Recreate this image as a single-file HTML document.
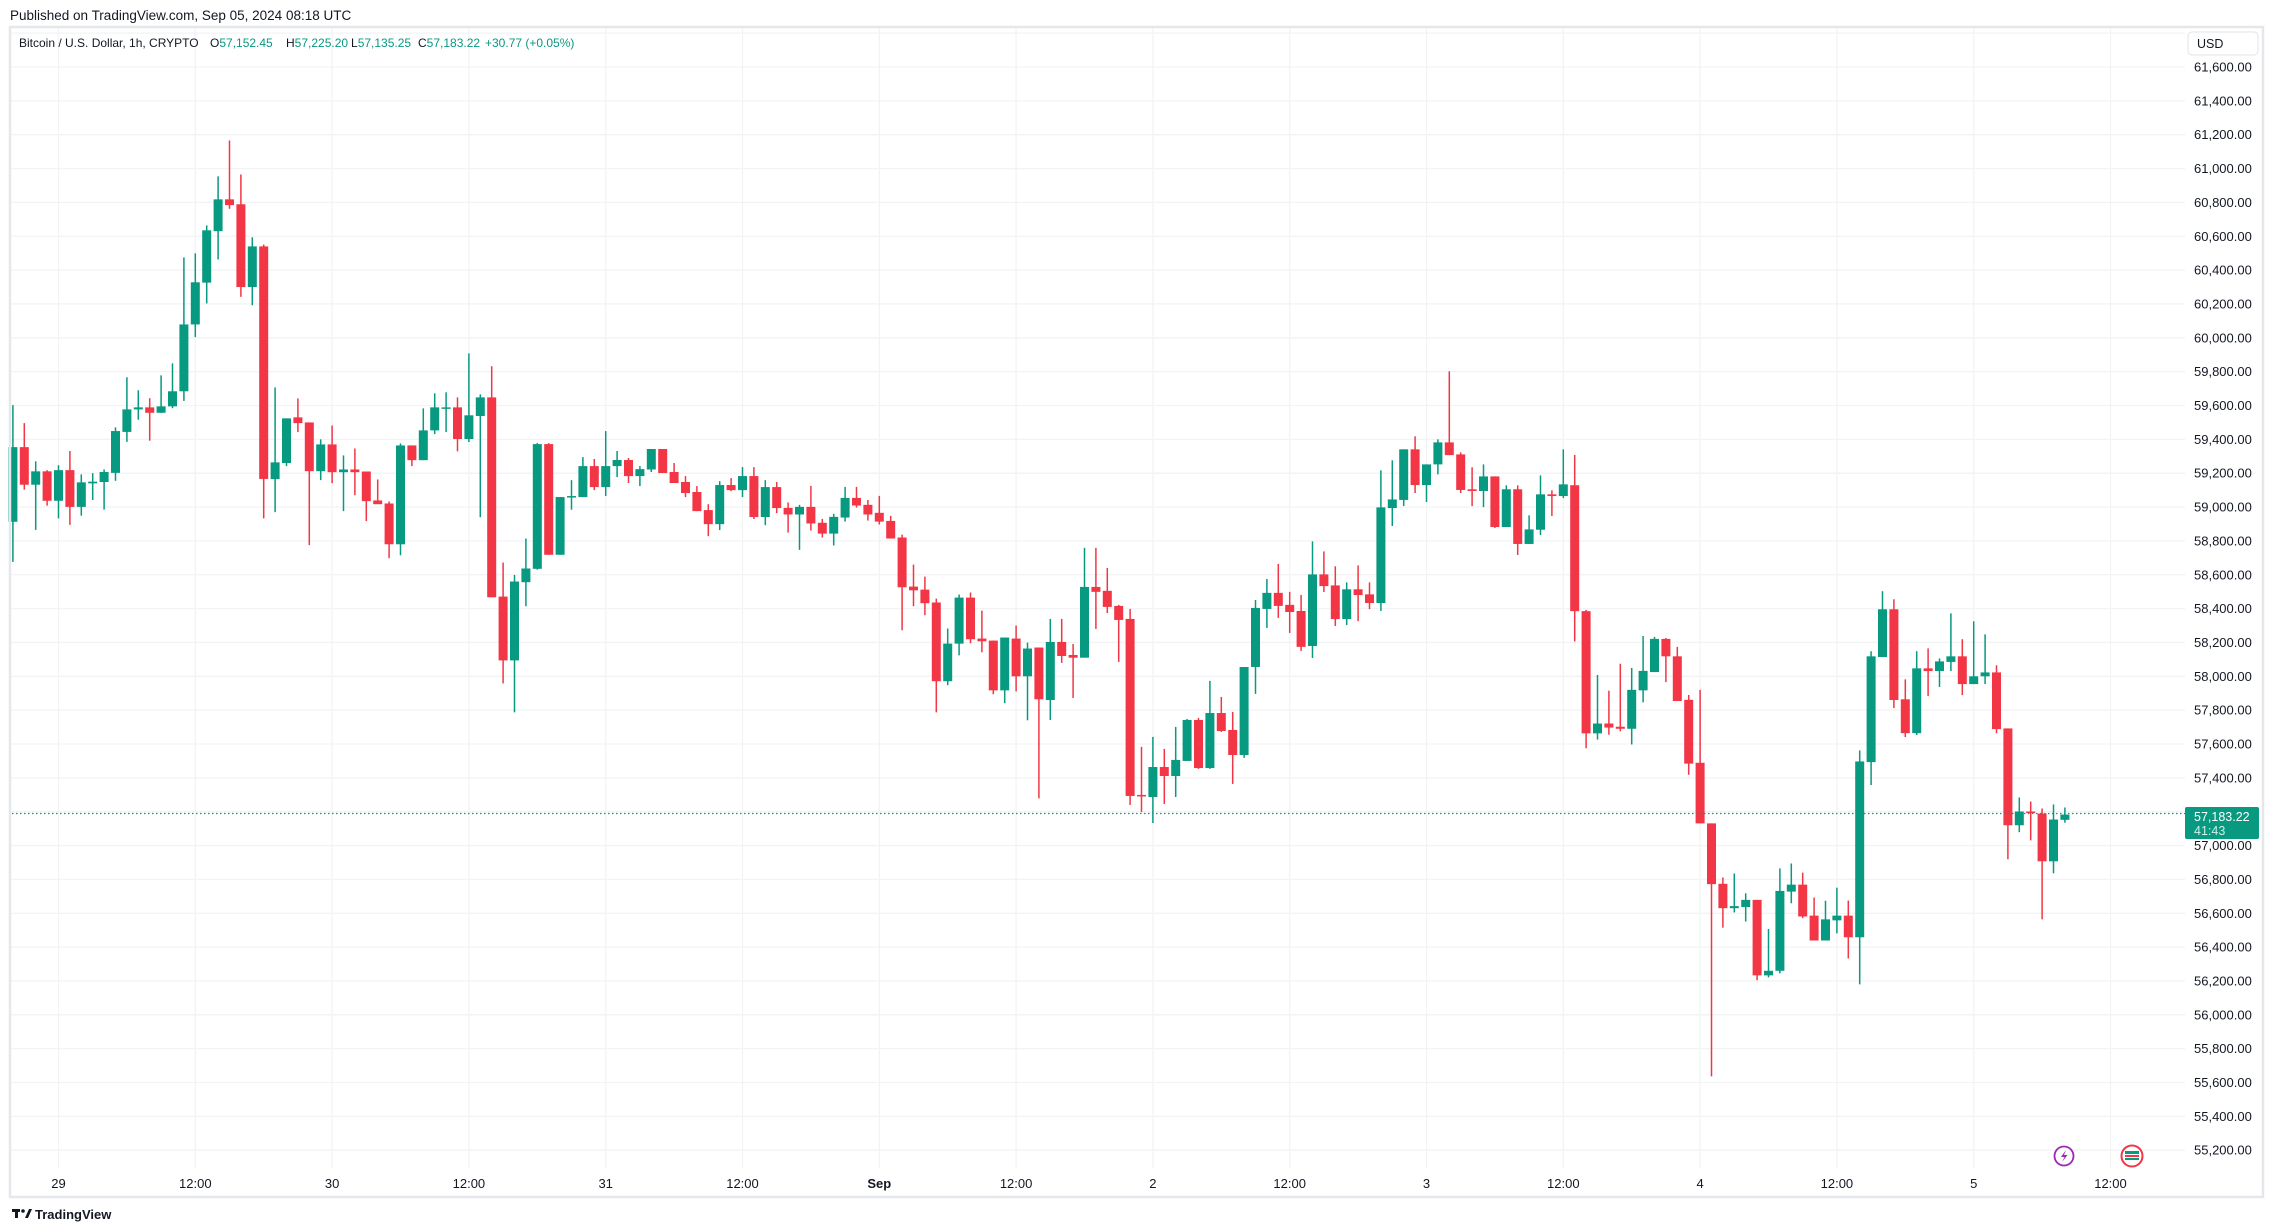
<!DOCTYPE html>
<html><head><meta charset="utf-8">
<style>
html,body{margin:0;padding:0;background:#fff;}
body{width:2274px;height:1232px;position:relative;overflow:hidden;font-family:"Liberation Sans",sans-serif;color:#131722;}
svg{position:absolute;left:0;top:0;}
</style></head>
<body>
<svg id="c" width="2274" height="1232" xmlns="http://www.w3.org/2000/svg" font-family="Liberation Sans, sans-serif">
<text x="10" y="20" font-size="13.5" fill="#131722">Published on TradingView.com, Sep 05, 2024 08:18 UTC</text>
<g id="grid"></g>
<g id="candles"></g>
<rect x="10" y="27" width="2253" height="1170" fill="none" stroke="#e6e7ea" stroke-width="2.5"/>
<g font-size="12" fill="#131722">
<text x="19" y="47">Bitcoin / U.S. Dollar, 1h, CRYPTO</text>
<text x="210" y="47">O<tspan fill="#089981">57,152.45</tspan></text>
<text x="286" y="47">H<tspan fill="#089981">57,225.20</tspan></text>
<text x="351" y="47">L<tspan fill="#089981">57,135.25</tspan></text>
<text x="418" y="47">C<tspan fill="#089981">57,183.22</tspan></text>
<text x="485" y="47" fill="#089981">+30.77 (+0.05%)</text>
</g>
<rect x="2188" y="32" width="70" height="23" rx="4" fill="#fff" stroke="#e0e3eb"/>
<text x="2197" y="48" font-size="12.5" fill="#131722">USD</text>
<g id="plabels" font-size="13" fill="#131722"></g>
<g id="tlabels" font-size="13" fill="#131722" text-anchor="middle"></g>
<line x1="12" x2="2185" y1="813.5" y2="813.5" stroke="#089981" stroke-width="1.2" stroke-dasharray="1.5 2.5"/>
<rect x="2185" y="807" width="74" height="32" rx="2" fill="#089981"/>
<text x="2194" y="821" font-size="12.5" fill="#fff">57,183.22</text>
<text x="2194" y="835" font-size="12.5" fill="#cdeee7">41:43</text>
<circle cx="2064" cy="1156" r="9.5" fill="#fff" stroke="#9c27b0" stroke-width="1.8"/>
<path d="M2066 1150 L2061 1157 L2064.5 1157 L2062 1162 L2067.5 1155 L2064 1155 Z" fill="#9c27b0"/>
<circle cx="2132" cy="1156" r="10.5" fill="#fff" stroke="#f23645" stroke-width="2"/>
<rect x="2125" y="1151" width="14" height="3" fill="#089981"/>
<rect x="2125" y="1155" width="14" height="2" fill="#f23645"/>
<rect x="2125" y="1158" width="14" height="2" fill="#089981"/>
<g transform="translate(12,1209)" fill="#131722">
<rect x="0" y="0" width="8" height="3"/>
<rect x="3" y="0" width="3" height="9"/>
<circle cx="11" cy="2" r="1.8"/>
<path d="M13 9 L17 0 L20 0 L16 9 Z"/>
</g>
<text x="35" y="1219" font-size="13" font-weight="bold" fill="#131722">TradingView</text>
</svg>
<script>
(function(){
var D=[[58913,59602,58676,59354],[59354,59496,59103,59132],[59132,59270,58865,59211],[59211,59218,59008,59037],[59037,59247,58933,59218],[59218,59331,58895,59001],[59001,59193,58949,59146],[59140,59200,59042,59150],[59148,59222,58985,59207],[59202,59471,59155,59449],[59444,59767,59385,59577],[59577,59690,59516,59589],[59589,59643,59392,59557],[59557,59778,59557,59595],[59595,59849,59584,59684],[59684,60475,59627,60079],[60079,60499,60004,60328],[60326,60664,60203,60635],[60630,60954,60463,60818],[60818,61166,60762,60784],[60789,60965,60242,60300],[60300,60594,60192,60540],[60540,60551,58933,59166],[59165,59707,58970,59264],[59260,59524,59242,59524],[59530,59642,59443,59496],[59500,59500,58775,59212],[59212,59400,59159,59370],[59370,59482,59141,59206],[59206,59305,58976,59222],[59222,59346,59070,59206],[59210,59210,58917,59035],[59039,59163,59017,59017],[59021,59033,58698,58780],[58780,59376,58715,59364],[59364,59364,59242,59277],[59277,59583,59277,59453],[59453,59672,59431,59589],[59585,59678,59443,59589],[59589,59648,59329,59402],[59402,59908,59384,59542],[59538,59666,58940,59648],[59648,59832,58467,58467],[58471,58672,57958,58094],[58094,58599,57787,58560],[58556,58814,58414,58637],[58635,59378,58630,59372],[59372,59378,58718,58718],[58718,59059,58718,59059],[59059,59159,58984,59065],[59059,59295,59059,59242],[59242,59284,59100,59118],[59118,59449,59065,59242],[59242,59331,59177,59278],[59278,59290,59142,59183],[59183,59242,59124,59224],[59222,59343,59207,59343],[59343,59343,59201,59201],[59207,59260,59142,59142],[59148,59183,59059,59083],[59089,59124,58976,58976],[58982,59017,58828,58899],[58899,59153,58864,59130],[59130,59171,59094,59100],[59100,59236,59059,59183],[59183,59236,58929,58941],[58941,59159,58893,59118],[59118,59148,58964,58994],[58995,59027,58849,58956],[58956,59013,58747,59001],[59001,59125,58861,58903],[58907,58930,58820,58843],[58843,58960,58773,58942],[58938,59119,58914,59054],[59054,59119,58997,59009],[59013,59042,58920,58956],[58966,59066,58897,58914],[58918,58948,58814,58814],[58820,58837,58272,58526],[58530,58660,58414,58508],[58512,58589,58361,58432],[58436,58459,57787,57971],[57971,58282,57947,58193],[58193,58483,58124,58465],[58465,58495,58195,58219],[58223,58388,58142,58207],[58211,58211,57894,57917],[57917,58229,57841,58229],[58223,58300,57911,58000],[58000,58199,57740,58164],[58170,58170,57279,57864],[57860,58339,57742,58203],[58203,58339,58079,58120],[58126,58191,57872,58110],[58110,58759,58110,58528],[58528,58759,58280,58499],[58505,58640,58374,58410],[58416,58422,58085,58333],[58339,58398,57240,57293],[57299,57583,57198,57293],[57287,57642,57133,57464],[57464,57571,57246,57411],[57411,57701,57287,57506],[57500,57748,57500,57742],[57742,57754,57453,57458],[57458,57973,57453,57783],[57783,57878,57671,57677],[57683,57789,57364,57535],[57535,58055,57518,58055],[58055,58451,57896,58404],[58398,58575,58286,58493],[58493,58664,58345,58416],[58422,58499,58256,58380],[58386,58481,58150,58174],[58179,58797,58108,58602],[58602,58738,58498,58533],[58537,58650,58297,58338],[58338,58555,58303,58514],[58514,58655,58326,58480],[58484,58555,58397,58433],[58433,59217,58386,58998],[58994,59276,58888,59045],[59042,59341,59006,59341],[59341,59418,59083,59130],[59130,59252,59030,59252],[59252,59400,59193,59382],[59382,59802,59307,59307],[59311,59323,59083,59101],[59105,59235,59006,59095],[59095,59252,59000,59181],[59181,59181,58876,58882],[58882,59128,58882,59105],[59105,59128,58717,58782],[58782,58951,58782,58868],[58866,59187,58835,59075],[59075,59099,58947,59065],[59065,59341,59053,59134],[59129,59308,58206,58385],[58385,58392,57575,57663],[57663,58008,57626,57721],[57721,57915,57655,57697],[57702,58074,57675,57690],[57690,58049,57597,57920],[57917,58238,57846,58032],[58025,58233,58025,58221],[58221,58226,57966,58118],[58118,58174,57854,57854],[57861,57890,57418,57484],[57489,57920,57131,57131],[57131,57131,55636,56772],[56774,56811,56515,56630],[56630,56835,56605,56642],[56637,56718,56551,56679],[56679,56679,56204,56233],[56233,56507,56221,56260],[56260,56865,56245,56732],[56728,56894,56659,56769],[56769,56840,56571,56581],[56586,56693,56439,56439],[56439,56674,56439,56564],[56558,56751,56481,56586],[56586,56675,56333,56458],[56458,57562,56180,57497],[57493,58148,57357,58118],[58114,58503,58114,58396],[58396,58455,57812,57860],[57864,57982,57641,57664],[57664,58148,57653,58047],[58047,58165,57883,58031],[58031,58106,57937,58088],[58085,58372,58031,58118],[58118,58219,57889,57954],[57954,58325,57954,58000],[58000,58248,57954,58023],[58023,58065,57664,57688],[57692,57692,56919,57120],[57120,57284,57079,57201],[57201,57260,57031,57193],[57189,57219,56564,56907],[56907,57243,56836,57154],[57152,57225,57135,57183]];
var NS="http://www.w3.org/2000/svg";
function Y(p){return 67+(61600-p)/200*33.85;}
function X(i){return 12.9+11.4*i;}
function el(t,a,par){var e=document.createElementNS(NS,t);for(var k in a)e.setAttribute(k,a[k]);par.appendChild(e);return e;}
var grid=document.getElementById('grid'),cg=document.getElementById('candles'),pl=document.getElementById('plabels'),tl=document.getElementById('tlabels');
for(var p=61800;p>=55200;p-=200){var y=Y(p);el('line',{x1:11,x2:2185,y1:y,y2:y,stroke:'#f2f3f5','stroke-width':1.3},grid);
 if(p<=61600){var t=el('text',{x:2194,y:y+4.5},pl);t.textContent=(p/1000).toFixed(3).replace('.',',')+'.00';}}
var labs=['29','12:00','30','12:00','31','12:00','Sep','12:00','2','12:00','3','12:00','4','12:00','5','12:00'];
for(var k=0;k<labs.length;k++){var x=58.5+136.8*k;el('line',{x1:x,x2:x,y1:28,y2:1168,stroke:'#f2f3f5','stroke-width':1.3},grid);
 var t=el('text',{x:x,y:1188},tl);t.textContent=labs[k];if(labs[k]=='Sep')t.setAttribute('font-weight','bold');}
for(var i=0;i<D.length;i++){var d=D[i],o=d[0],h=d[1],l=d[2],c=d[3];var col=c>=o?'#089981':'#f23645';var x=X(i);
 el('rect',{x:x-0.75,y:Y(h),width:1.5,height:Math.max(1,Y(l)-Y(h)),fill:col},cg);
 var t=Y(Math.max(o,c)),b=Y(Math.min(o,c));el('rect',{x:x-4.5,y:t,width:9,height:Math.max(1.5,b-t),fill:col},cg);}
})();
</script>
</body></html>
